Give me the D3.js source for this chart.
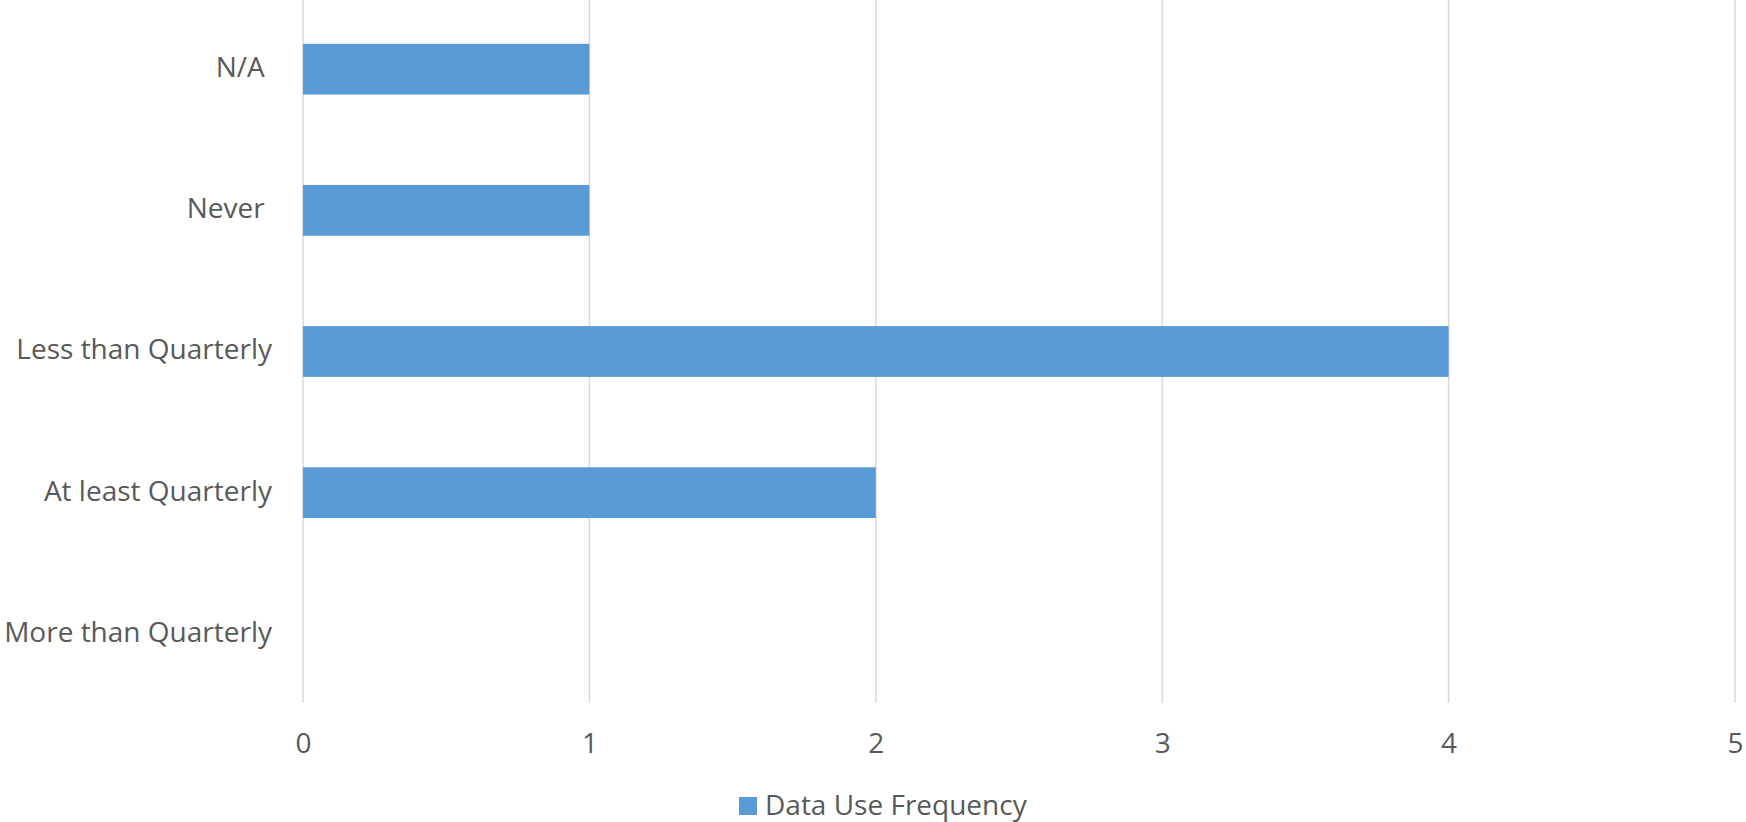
<!DOCTYPE html>
<html>
<head>
<meta charset="utf-8">
<script src="https://cdn.jsdelivr.net/npm/d3@7"></script>
<style>
  html, body { margin: 0; padding: 0; background: #ffffff; }
  svg { display: block; }
  text { font-family: "Open Sans", sans-serif; fill: #595959; }
</style>
</head>
<body>
<svg id="chart" width="1746" height="822"></svg>
<script>
// Data (top to bottom as drawn)
const categories = ["N/A ", "Never ", "Less than Quarterly", "At least Quarterly", "More than Quarterly"];
const values = [1, 1, 4, 2, 0];
const tickValues = [0, 1, 2, 3, 4, 5];
const seriesName = "Data Use Frequency";

const W = 1746, H = 822;
const margin = { left: 303, right: 11, top: 0, bottom: 119 };
const svg = d3.select("#chart");

const x = d3.scaleLinear().domain([0, 5]).range([margin.left, W - margin.right]);
const y = d3.scaleBand().domain(categories).range([margin.top, H - margin.bottom]).paddingInner(0.64).paddingOuter(0.31);

// gridlines
svg.append("g")
  .selectAll("line")
  .data(tickValues)
  .join("line")
  .attr("x1", d => x(d)).attr("x2", d => x(d))
  .attr("y1", margin.top).attr("y2", H - margin.bottom)
  .attr("stroke", "#d9d9d9")
  .attr("stroke-width", 1.5);

// bars
svg.append("g")
  .selectAll("rect")
  .data(categories.map((c, i) => ({ c, v: values[i] })).filter(d => d.v > 0))
  .join("rect")
  .attr("x", x(0))
  .attr("y", d => y(d.c))
  .attr("width", d => x(d.v) - x(0))
  .attr("height", y.bandwidth())
  .attr("fill", "#5b9bd5");

// x axis labels
const xAxis = d3.axisBottom(x).tickValues(tickValues).tickSize(0).tickPadding(0).tickFormat(d3.format("d"));
const gx = svg.append("g").attr("transform", `translate(0, ${H - margin.bottom})`).call(xAxis);
gx.select(".domain").remove();
gx.selectAll("text")
  .attr("y", 0)
  .attr("dy", 50)
  .style("font-size", "28px")
  .style("fill", "#595959")
  .style("font-family", "'Open Sans', sans-serif");

// y axis labels
const yAxis = d3.axisLeft(y).tickSize(0).tickPadding(0);
const gy = svg.append("g").attr("transform", `translate(${margin.left - 31}, 0)`).call(yAxis);
gy.select(".domain").remove();
gy.selectAll("text")
  .attr("x", 0)
  .attr("dy", "0.28em")
  .style("white-space", "pre")
  .style("font-size", "28px")
  .style("fill", "#595959")
  .style("font-family", "'Open Sans', sans-serif");

// legend
const lg = svg.append("g");
lg.append("rect").attr("x", 739).attr("y", 797).attr("width", 18).attr("height", 18).attr("fill", "#5b9bd5");
lg.append("text").attr("x", 765).attr("y", 815).style("font-size", "28px").text(seriesName);
</script>
</body>
</html>
